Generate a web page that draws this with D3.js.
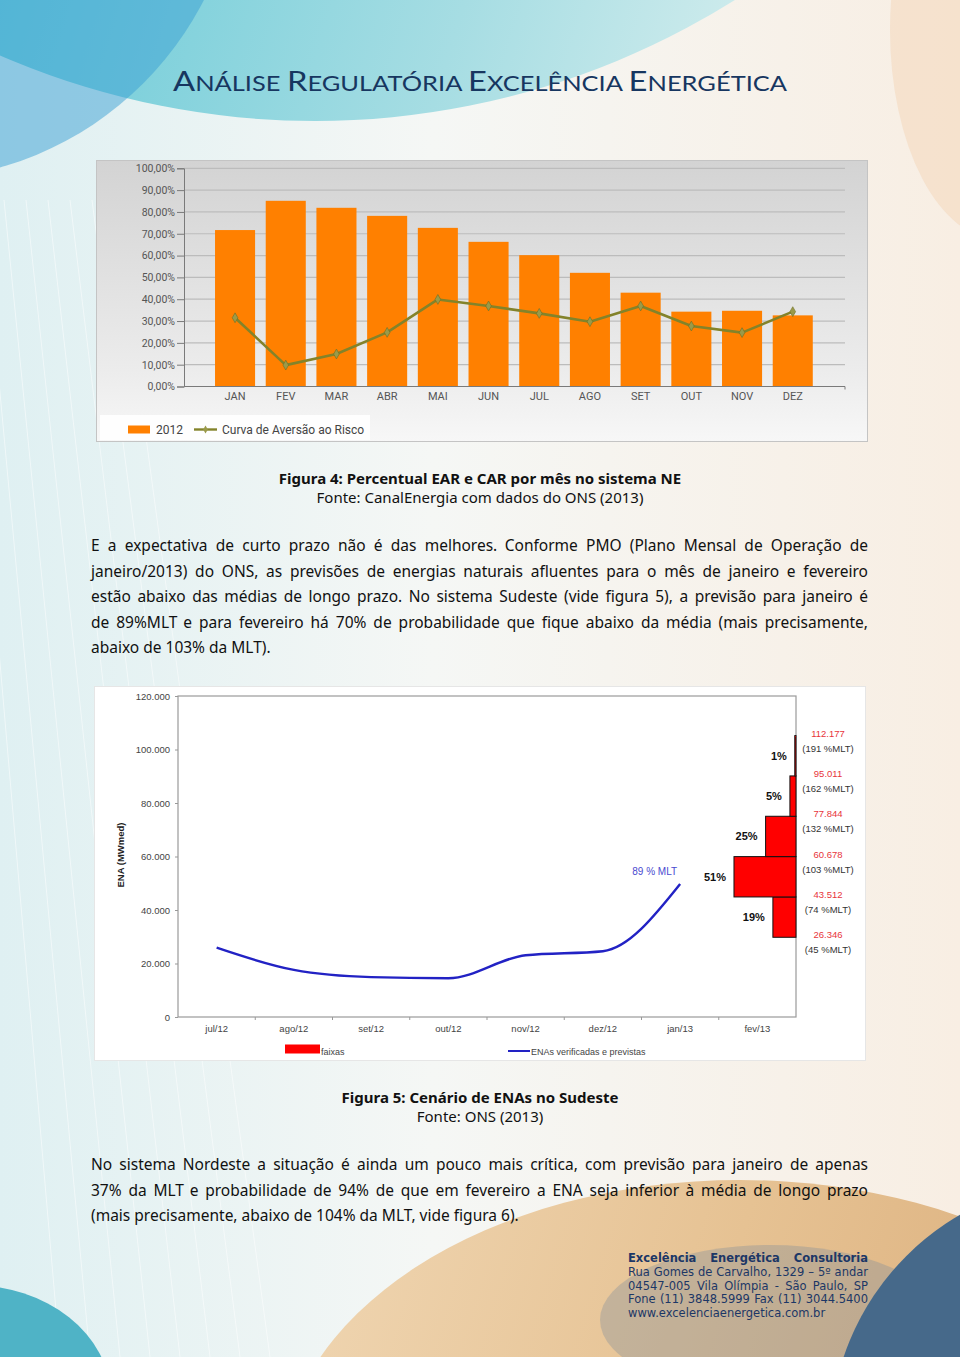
<!DOCTYPE html>
<html><head><meta charset="utf-8">
<script src="https://cdn.jsdelivr.net/npm/d3@7"></script>
<style>html,body{margin:0;padding:0;background:#fff;} svg{display:block}</style>
</head><body>
<svg id="page" width="960" height="1357"></svg>
<script>
// ---------------- Chart 1 data (Figura 4) ----------------
const months1 = ["JAN","FEV","MAR","ABR","MAI","JUN","JUL","AGO","SET","OUT","NOV","DEZ"];
const ear2012 = [71.7, 85.1, 81.9, 78.2, 72.7, 66.3, 60.2, 52.1, 43.0, 34.3, 34.7, 32.6];
const carCurve = [31.5, 9.8, 14.9, 24.8, 39.9, 36.9, 33.5, 29.7, 36.9, 27.7, 24.7, 34.3];
const yTicks1 = [0, 10, 20, 30, 40, 50, 60, 70, 80, 90, 100];
const legend1 = ["2012", "Curva de Aversão ao Risco"];

// ---------------- Chart 2 data (Figura 5) ----------------
const months2 = ["jul/12","ago/12","set/12","out/12","nov/12","dez/12","jan/13","fev/13"];
const enaMonths = ["jul/12","ago/12","set/12","out/12","nov/12","dez/12","jan/13"];
const enaValues = [25900, 17600, 14900, 14500, 23100, 24600, 49700];
const yTicks2 = [0, 20000, 40000, 60000, 80000, 100000, 120000];
const faixaBounds = [26346, 43512, 60678, 77844, 95011, 112177];
const faixaMLT = [45, 74, 103, 132, 162, 191];
const faixaProb = [19, 51, 25, 5, 1];
const lastLabel = "89 % MLT";
const legend2 = ["faixas", "ENAs verificadas e previstas"];

// ---------------- Text ----------------
const titleParts = [["A","NÁLISE "],["R","EGULATÓRIA "],["E","XCELÊNCIA "],["E","NERGÉTICA"]];
const cap1 = ["Figura 4: Percentual EAR e CAR por mês no sistema NE", "Fonte: CanalEnergia com dados do ONS (2013)"];
const para1 = [
 "E a expectativa de curto prazo não é das melhores. Conforme PMO (Plano Mensal de Operação de",
 "janeiro/2013) do ONS, as previsões de energias naturais afluentes para o mês de janeiro e fevereiro",
 "estão abaixo das médias de longo prazo. No sistema Sudeste (vide figura 5), a previsão para janeiro é",
 "de 89%MLT e para fevereiro há 70% de probabilidade que fique abaixo da média (mais precisamente,",
 "abaixo de 103% da MLT)."];
const cap2 = ["Figura 5: Cenário de ENAs no Sudeste", "Fonte: ONS (2013)"];
const para2 = [
 "No sistema Nordeste a situação é ainda um pouco mais crítica, com previsão para janeiro de apenas",
 "37% da MLT e probabilidade de 94% de que em fevereiro a ENA seja inferior à média de longo prazo",
 "(mais precisamente, abaixo de 104% da MLT, vide figura 6)."];
const footer = [
 "Excelência Energética Consultoria",
 "Rua Gomes de Carvalho, 1329 – 5º andar",
 "04547-005 Vila Olímpia - São Paulo, SP",
 "Fone (11) 3848.5999 Fax (11) 3044.5400",
 "www.excelenciaenergetica.com.br"];

const svg = d3.select("#page");
const defs = svg.append("defs");
const ptBR = d3.formatLocale({decimal: ",", thousands: ".", grouping: [3], currency: ["R$", ""]});
const fmtInt = ptBR.format(",d");
const fmtPct = ptBR.format(",.2f");

// ---------------- Background ----------------
function lin(id, x1, y1, x2, y2, stops) {
  const g = defs.append("linearGradient").attr("id", id)
    .attr("x1", x1).attr("y1", y1).attr("x2", x2).attr("y2", y2);
  stops.forEach(s => g.append("stop").attr("offset", s[0]).attr("stop-color", s[1]).attr("stop-opacity", s[2] == null ? 1 : s[2]));
}
lin("bgGrad", 0, 0, 1, 0, [[0, "#dff0f2"], [0.45, "#f5f7f5"], [1, "#f8eee3"]]);
lin("cyanGrad", 0, 0, 1, 0.3, [[0, "#33b6cf"], [0.45, "#5cc6d5"], [0.8, "#a6dde3"], [1, "#d6eeee"]]);
lin("tanGrad", 0, 0, 1, 0.2, [[0, "#f0d7b4"], [0.5, "#e6c293"], [1, "#d9ab78"]]);
lin("chart1Bg", 0, 0, 0, 1, [[0, "#d3d3d3"], [0.75, "#ececec"], [1, "#f7f7f7"]]);

svg.append("rect").attr("width", 960).attr("height", 1357).attr("fill", "url(#bgGrad)");
svg.append("circle").attr("cx", 315).attr("cy", -668).attr("r", 789).attr("fill", "url(#cyanGrad)");
svg.append("circle").attr("cx", -90).attr("cy", -150).attr("r", 330).attr("fill", "#3a9fd4").attr("opacity", 0.5);
svg.append("ellipse").attr("cx", 1000).attr("cy", 30).attr("rx", 110).attr("ry", 210).attr("fill", "#f3d6b8").attr("opacity", 0.5);
// faint diagonal lines on the left
d3.range(8).forEach(i => {
  svg.append("line").attr("x1", -40 + i * 22).attr("y1", 200).attr("x2", 60 + i * 30).attr("y2", 1357)
    .attr("stroke", "#ffffff").attr("stroke-width", 1).attr("opacity", 0.5);
});
svg.append("ellipse").attr("cx", 740).attr("cy", 1480).attr("rx", 460).attr("ry", 300).attr("fill", "url(#tanGrad)");
svg.append("ellipse").attr("cx", 770).attr("cy", 1320).attr("rx", 170).attr("ry", 75).attr("fill", "#7d8d9b").attr("opacity", 0.35);
svg.append("circle").attr("cx", 1090).attr("cy", 1440).attr("r", 260).attr("fill", "#46698a");
svg.append("ellipse").attr("cx", -30).attr("cy", 1395).attr("rx", 140).attr("ry", 110).attr("fill", "#4fb3c6");

// ---------------- Text helpers ----------------
function textLine(str, x0, x1, y, o) {
  const t = svg.append("text").attr("y", y)
    .attr("font-family", o.family).attr("font-size", o.size)
    .attr("font-weight", o.weight || "normal").attr("fill", o.fill || "#111");
  if (o.align === "center") {
    t.attr("x", (x0 + x1) / 2).attr("text-anchor", "middle").text(str);
    return t;
  }
  if (!o.justify) { t.attr("x", x0).text(str); return t; }
  const words = str.split(" ");
  const spans = words.map(w => t.append("tspan").text(w));
  const widths = spans.map(s => s.node().getComputedTextLength());
  const total = d3.sum(widths);
  const avail = x1 - x0;
  let gap = (avail - total) / (words.length - 1);
  let f = 1;
  if (gap < 2.5) { gap = 2.5; f = (avail - gap * (words.length - 1)) / total; }
  let x = x0;
  spans.forEach((s, i) => {
    s.attr("x", x);
    if (f !== 1) s.attr("textLength", widths[i] * f).attr("lengthAdjust", "spacingAndGlyphs");
    x += widths[i] * f + gap;
  });
  return t;
}

// Title (small caps)
const title = svg.append("text").attr("x", 480).attr("y", 91).attr("text-anchor", "middle")
  .attr("font-family", "Lato, 'Open Sans', sans-serif").attr("fill", "#173660");
titleParts.forEach(p => {
  title.append("tspan").attr("font-size", 27).text(p[0]);
  title.append("tspan").attr("font-size", 21).text(p[1]);
});
title.attr("textLength", 614).attr("lengthAdjust", "spacingAndGlyphs");

const bodyFont = {family: "'Noto Sans', 'Open Sans', sans-serif", size: 15.5, fill: "#111"};
textLine(cap1[0], 0, 960, 484, {...bodyFont, size: 15, weight: "bold", align: "center"});
textLine(cap1[1], 0, 960, 503, {...bodyFont, size: 15, align: "center"});
para1.forEach((l, i) => textLine(l, 91, 868, 551 + i * 25.5, {...bodyFont, justify: i < para1.length - 1}));
textLine(cap2[0], 0, 960, 1103, {...bodyFont, size: 15, weight: "bold", align: "center"});
textLine(cap2[1], 0, 960, 1122, {...bodyFont, size: 15, align: "center"});
para2.forEach((l, i) => textLine(l, 91, 868, 1170 + i * 25.5, {...bodyFont, justify: i < para2.length - 1}));
const footFont = {family: "'DejaVu Sans', Verdana, sans-serif", size: 11.5, fill: "#1c3766"};
footer.forEach((l, i) => textLine(l, 628, 868, 1262 + i * 13.8,
  {...footFont, weight: i === 0 ? "bold" : "normal", justify: i < footer.length - 1}));

// ---------------- Chart 1 ----------------
const c1 = svg.append("g");
c1.append("rect").attr("x", 96.5).attr("y", 160.5).attr("width", 771).attr("height", 281)
  .attr("fill", "url(#chart1Bg)").attr("stroke", "#c4c4c4");
const x1 = d3.scaleBand().domain(months1).range([209.7, 818.1]).paddingInner(0.21).paddingOuter(0.105);
const y1 = d3.scaleLinear().domain([0, 100]).range([386.5, 168.3]);
const axX0 = 184, axX1 = 845;
const f1 = "Roboto, 'Liberation Sans', sans-serif";
// grid
c1.selectAll(".g1").data(yTicks1.slice(1)).join("line")
  .attr("x1", axX0).attr("x2", axX1).attr("y1", d => y1(d)).attr("y2", d => y1(d))
  .attr("stroke", "#bcbcbc").attr("stroke-width", 1.2);
// bars
c1.selectAll(".bar").data(months1).join("rect")
  .attr("x", d => x1(d)).attr("width", x1.bandwidth())
  .attr("y", (d, i) => y1(ear2012[i])).attr("height", (d, i) => y1(0) - y1(ear2012[i]))
  .attr("fill", "#ff8000");
// axes
const yAx1 = c1.append("g").attr("transform", `translate(${axX0},0)`)
  .call(d3.axisLeft(y1).tickValues(yTicks1).tickSize(7).tickPadding(2).tickFormat(d => fmtPct(d) + "%"));
yAx1.select(".domain").attr("stroke", "#7a7a7a");
yAx1.selectAll(".tick line").attr("stroke", "#7a7a7a");
yAx1.selectAll("text").attr("font-family", f1).attr("font-size", 10.5).attr("fill", "#555");
const xAx1 = c1.append("g").attr("transform", `translate(0,${y1(0)})`)
  .call(d3.axisBottom(x1).tickSize(0).tickPadding(6));
xAx1.select(".domain").attr("d", `M${axX0},0H${axX1}V3`).attr("stroke", "#7a7a7a");
xAx1.selectAll("text").attr("font-family", f1).attr("font-size", 11).attr("fill", "#555");
// curve
const line1 = d3.line().x((d, i) => x1(months1[i]) + x1.bandwidth() / 2).y(d => y1(d));
c1.append("path").datum(carCurve).attr("d", line1).attr("fill", "none")
  .attr("stroke", "#83832a").attr("stroke-width", 2.6).attr("stroke-linejoin", "round");
c1.selectAll(".mk").data(carCurve).join("path")
  .attr("transform", (d, i) => `translate(${x1(months1[i]) + x1.bandwidth() / 2},${y1(d)})`)
  .attr("d", d3.symbol(d3.symbolDiamond, 28)).attr("fill", "#9a9a4a").attr("stroke", "#6f6f22").attr("stroke-width", 0.6);
// legend
c1.append("rect").attr("x", 100).attr("y", 415).attr("width", 270).attr("height", 25).attr("fill", "#ffffff").attr("opacity", 0.85);
c1.append("rect").attr("x", 128).attr("y", 425.5).attr("width", 22).attr("height", 8).attr("fill", "#ff8000");
c1.append("text").attr("x", 156).attr("y", 434).text(legend1[0]).attr("font-family", f1).attr("font-size", 12).attr("fill", "#444");
c1.append("line").attr("x1", 194).attr("x2", 217).attr("y1", 429.5).attr("y2", 429.5).attr("stroke", "#83832a").attr("stroke-width", 2.4);
c1.append("path").attr("transform", "translate(205.5,429.5)").attr("d", d3.symbol(d3.symbolDiamond, 18)).attr("fill", "#9a9a4a");
c1.append("text").attr("x", 222).attr("y", 434).text(legend1[1]).attr("font-family", f1).attr("font-size", 12).attr("fill", "#444");

// ---------------- Chart 2 ----------------
const c2 = svg.append("g");
const f2 = "'Liberation Sans', Arial, sans-serif";
c2.append("rect").attr("x", 94.5).attr("y", 686.5).attr("width", 771).attr("height", 374)
  .attr("fill", "#ffffff").attr("stroke", "#e6e6e6");
const x2 = d3.scaleBand().domain(months2).range([178, 796]);
const y2 = d3.scaleLinear().domain([0, 120000]).range([1017, 696]);
const cx2 = m => x2(m) + x2.bandwidth() / 2;
c2.append("rect").attr("x", 178).attr("y", 696).attr("width", 796 - 178).attr("height", 1017 - 696)
  .attr("fill", "none").attr("stroke", "#9a9a9a").attr("stroke-width", 1.2);
const yAx2 = c2.append("g").attr("transform", "translate(178,0)")
  .call(d3.axisLeft(y2).tickValues(yTicks2).tickSize(3).tickPadding(5).tickFormat(d => fmtInt(d)));
yAx2.select(".domain").remove();
yAx2.selectAll(".tick line").attr("stroke", "#999");
yAx2.selectAll("text").attr("font-family", f2).attr("font-size", 9.5).attr("fill", "#444");
const xAx2 = c2.append("g").attr("transform", "translate(0,1017)")
  .call(d3.axisBottom(x2).tickSize(0).tickPadding(8));
xAx2.select(".domain").remove();
xAx2.selectAll("text").attr("font-family", f2).attr("font-size", 9.5).attr("fill", "#444");
c2.selectAll(".xt").data(months2.slice(1)).join("line")
  .attr("x1", d => x2(d)).attr("x2", d => x2(d)).attr("y1", 1017).attr("y2", 1020).attr("stroke", "#999");
c2.append("text").attr("transform", "translate(124,855) rotate(-90)").attr("text-anchor", "middle")
  .attr("font-family", f2).attr("font-size", 9.5).attr("font-weight", "bold").attr("fill", "#222").text("ENA (MWmed)");
// ENA line
const line2 = d3.line().x((d, i) => cx2(enaMonths[i])).y(d => y2(d)).curve(d3.curveMonotoneX);
c2.append("path").datum(enaValues).attr("d", line2).attr("fill", "none")
  .attr("stroke", "#2222c4").attr("stroke-width", 2.4);
c2.append("text").attr("x", cx2(enaMonths[enaMonths.length - 1]) - 3).attr("y", y2(enaValues[enaValues.length - 1]) - 9)
  .attr("text-anchor", "end").attr("font-family", f2).attr("font-size", 10).attr("fill", "#4a4ad0").text(lastLabel);
// histogram (faixas)
const hy = d3.scaleLinear().domain([faixaBounds[0], faixaBounds[faixaBounds.length - 1]]).range([y2(29800), y2(105200)]);
const hw = d3.scaleLinear().domain([0, 100]).range([0, 121.6]);
const hx1 = x2.range()[1];
c2.selectAll(".hb").data(faixaProb).join("rect")
  .attr("x", d => hx1 - hw(d)).attr("width", d => hw(d))
  .attr("y", (d, i) => hy(faixaBounds[i + 1])).attr("height", (d, i) => hy(faixaBounds[i]) - hy(faixaBounds[i + 1]))
  .attr("fill", "#ff0000").attr("stroke", "#111").attr("stroke-width", 1);
c2.selectAll(".hp").data(faixaProb).join("text")
  .attr("x", d => hx1 - hw(d) - 8).attr("y", (d, i) => (hy(faixaBounds[i]) + hy(faixaBounds[i + 1])) / 2 + 4)
  .attr("text-anchor", "end").attr("font-family", f2).attr("font-size", 11).attr("font-weight", "bold").attr("fill", "#111")
  .text(d => d + "%");
c2.selectAll(".hv").data(faixaBounds).join("text")
  .attr("x", 828).attr("y", d => hy(d) + 1).attr("text-anchor", "middle")
  .attr("font-family", f2).attr("font-size", 9.5).attr("fill", "#e8343a").text(d => fmtInt(d));
c2.selectAll(".hm").data(faixaMLT).join("text")
  .attr("x", 828).attr("y", (d, i) => hy(faixaBounds[i]) + 16).attr("text-anchor", "middle")
  .attr("font-family", f2).attr("font-size", 9.5).attr("fill", "#333").text(d => "(" + d + " %MLT)");
// legend 2
c2.append("rect").attr("x", 285).attr("y", 1044.5).attr("width", 35).attr("height", 9).attr("fill", "#ff0000");
c2.append("text").attr("x", 321).attr("y", 1055).attr("font-family", f2).attr("font-size", 9).attr("fill", "#444").text(legend2[0]);
c2.append("line").attr("x1", 508).attr("x2", 530).attr("y1", 1051).attr("y2", 1051).attr("stroke", "#2222c4").attr("stroke-width", 2);
c2.append("text").attr("x", 531).attr("y", 1055).attr("font-family", f2).attr("font-size", 9).attr("fill", "#444").text(legend2[1]);
</script>
</body></html>
